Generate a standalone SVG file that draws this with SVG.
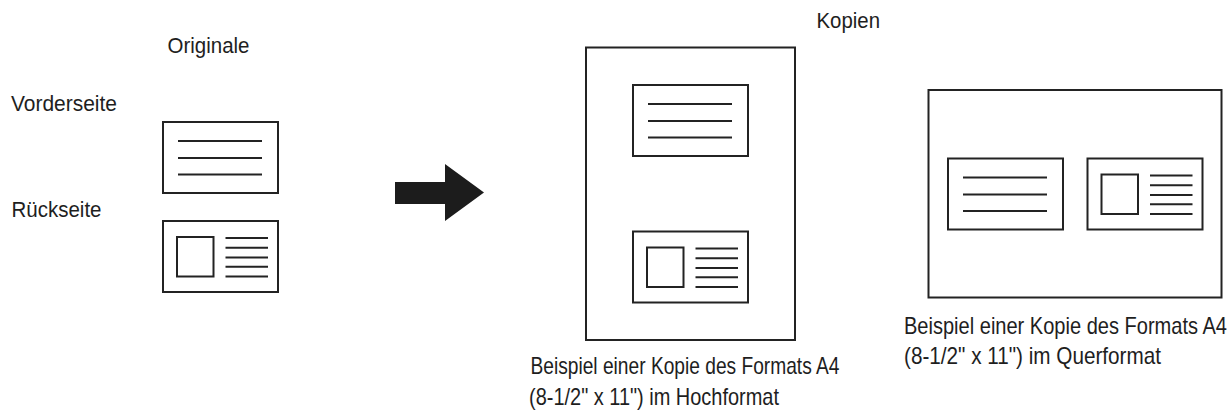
<svg xmlns="http://www.w3.org/2000/svg" xmlns:xlink="http://www.w3.org/1999/xlink" width="1232" height="418" viewBox="0 0 1232 418">
  <style>
    .lbl { font-family: "Liberation Sans", Arial, Helvetica, sans-serif; fill: #1e1e1e; }
    .small { font-size: 21.5px; }
    .cap { font-size: 20px; }
    .frame { fill: #ffffff; stroke: #232323; stroke-width: 2; }
    .ln { stroke: #232323; stroke-width: 2; fill: none; }
  </style>
  <defs>
    <g id="frontCard">
      <rect class="frame" x="0" y="0" width="115" height="71"/>
      <path class="ln" d="M15 19H99M15 36H99M15 52.5H99"/>
    </g>
    <g id="backCard">
      <rect class="frame" x="0" y="0" width="115" height="71"/>
      <rect class="frame" x="14" y="16" width="36.5" height="39.5"/>
      <path class="ln" d="M62.5 17H105M62.5 26.7H105M62.5 36.5H105M62.5 45.8H105M62.5 55.6H105"/>
    </g>
  </defs>
  <rect width="1232" height="418" fill="#ffffff"/>

  <g id="originals">
    <text class="lbl small" x="167.5" y="53" textLength="82" lengthAdjust="spacingAndGlyphs">Originale</text>
    <text class="lbl small" x="11" y="110.5" textLength="106" lengthAdjust="spacingAndGlyphs">Vorderseite</text>
    <text class="lbl small" x="11.5" y="217" textLength="90" lengthAdjust="spacingAndGlyphs">Rückseite</text>
    <g id="orig-front"><use xlink:href="#frontCard" href="#frontCard" x="163" y="122"/></g>
    <g id="orig-back"><use xlink:href="#backCard" href="#backCard" x="163" y="221"/></g>
  </g>

  <g id="connectors">
    <polygon points="395,182 445,182 445,164 484,192.5 445,221 445,204 395,204" fill="#1c1c1c"/>
  </g>

  <g id="copies-label">
    <text class="lbl small" x="816.5" y="27.5" textLength="63.5" lengthAdjust="spacingAndGlyphs">Kopien</text>
  </g>

  <g id="copy-portrait">
    <rect class="frame" x="586" y="47.5" width="209" height="292.5"/>
    <use xlink:href="#frontCard" href="#frontCard" x="633" y="85"/>
    <use xlink:href="#backCard" href="#backCard" x="633" y="231.5"/>
    <text class="lbl cap" transform="translate(530.5 374) scale(1 1.18)" textLength="309" lengthAdjust="spacingAndGlyphs">Beispiel einer Kopie des Formats A4</text>
    <text class="lbl cap" transform="translate(529 405) scale(1 1.18)" textLength="250" lengthAdjust="spacingAndGlyphs">(8-1/2" x 11") im Hochformat</text>
  </g>

  <g id="copy-landscape">
    <rect class="frame" x="928.5" y="90" width="293" height="207.5"/>
    <use xlink:href="#frontCard" href="#frontCard" x="948" y="158.5"/>
    <use xlink:href="#backCard" href="#backCard" x="1087.5" y="158.5"/>
    <text class="lbl cap" transform="translate(904 333.5) scale(1 1.18)" textLength="323" lengthAdjust="spacingAndGlyphs">Beispiel einer Kopie des Formats A4</text>
    <text class="lbl cap" transform="translate(904 363.5) scale(1 1.18)" textLength="257" lengthAdjust="spacingAndGlyphs">(8-1/2" x 11") im Querformat</text>
  </g>
</svg>
